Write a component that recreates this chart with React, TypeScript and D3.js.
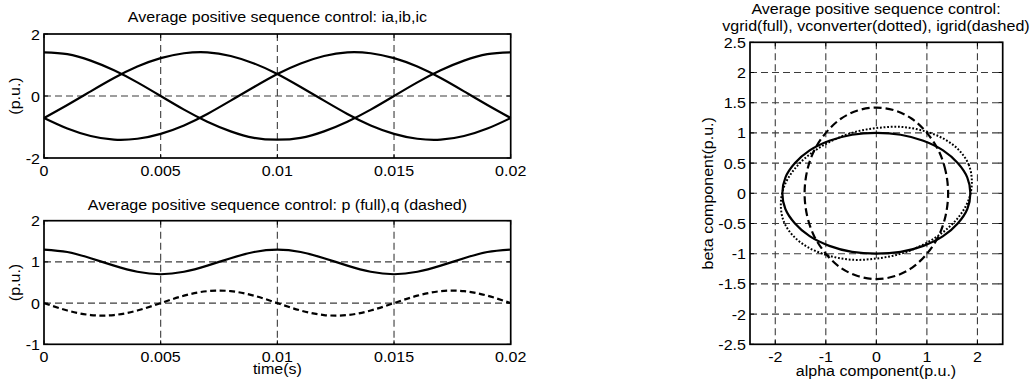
import React from "react";
import * as d3 from "d3";

// ---- data -------------------------------------------------------------
const time = [
  0, 0.001, 0.002, 0.003, 0.004, 0.005, 0.006, 0.007, 0.008, 0.009, 0.01,
  0.011, 0.012, 0.013, 0.014, 0.015, 0.016, 0.017, 0.018, 0.019, 0.02,
];
const ia = [1.41, 1.35, 1.14, 0.83, 0.44, 0, -0.44, -0.83, -1.14, -1.35, -1.41, -1.35, -1.14, -0.83, -0.44, 0, 0.44, 0.83, 1.14, 1.35, 1.41];
const ib = [-0.71, -0.29, 0.15, 0.58, 0.95, 1.22, 1.38, 1.41, 1.29, 1.05, 0.71, 0.29, -0.15, -0.58, -0.95, -1.22, -1.38, -1.41, -1.29, -1.05, -0.71];
const ic = [-0.71, -1.05, -1.29, -1.41, -1.38, -1.22, -0.95, -0.58, -0.15, 0.29, 0.71, 1.05, 1.29, 1.41, 1.38, 1.22, 0.95, 0.58, 0.15, -0.29, -0.71];

const pActive = [1.3, 1.24, 1.09, 0.91, 0.76, 0.7, 0.76, 0.91, 1.09, 1.24, 1.3, 1.24, 1.09, 0.91, 0.76, 0.7, 0.76, 0.91, 1.09, 1.24, 1.3];
const qReactive = [0, -0.18, -0.29, -0.29, -0.18, 0, 0.18, 0.29, 0.29, 0.18, 0, -0.18, -0.29, -0.29, -0.18, 0, 0.18, 0.29, 0.29, 0.18, 0];

// alpha/beta trajectories over one cycle (closed curves)
const vgridAlpha = [1.86, 1.8, 1.61, 1.32, 0.93, 0.48, 0, -0.48, -0.93, -1.32, -1.61, -1.8, -1.86, -1.8, -1.61, -1.32, -0.93, -0.48, 0, 0.48, 0.93, 1.32, 1.61, 1.8];
const vgridBeta = [0, 0.26, 0.5, 0.71, 0.87, 0.97, 1, 0.97, 0.87, 0.71, 0.5, 0.26, 0, -0.26, -0.5, -0.71, -0.87, -0.97, -1, -0.97, -0.87, -0.71, -0.5, -0.26];

const vconvAlpha = [1.89, 1.83, 1.64, 1.34, 0.95, 0.49, 0, -0.49, -0.95, -1.34, -1.64, -1.83, -1.89, -1.83, -1.64, -1.34, -0.95, -0.49, 0, 0.49, 0.95, 1.34, 1.64, 1.83];
const vconvBeta = [0.19, 0.47, 0.71, 0.9, 1.03, 1.1, 1.08, 1.0, 0.84, 0.63, 0.38, 0.1, -0.19, -0.47, -0.71, -0.9, -1.03, -1.1, -1.08, -1.0, -0.84, -0.63, -0.38, -0.1];

const igridAlpha = [1.42, 1.37, 1.23, 1.0, 0.71, 0.37, 0, -0.37, -0.71, -1.0, -1.23, -1.37, -1.42, -1.37, -1.23, -1.0, -0.71, -0.37, 0, 0.37, 0.71, 1.0, 1.23, 1.37];
const igridBeta = [0, 0.37, 0.71, 1.0, 1.23, 1.37, 1.42, 1.37, 1.23, 1.0, 0.71, 0.37, 0, -0.37, -0.71, -1.0, -1.23, -1.37, -1.42, -1.37, -1.23, -1.0, -0.71, -0.37];

// ---- ticks ------------------------------------------------------------
const timeTicks = [0, 0.005, 0.01, 0.015, 0.02];
const currentTicks = [-2, 0, 2];
const powerTicks = [-1, 0, 1, 2];
const alphaTicks = [-2, -1, 0, 1, 2];
const betaTicks = [-2.5, -2, -1.5, -1, -0.5, 0, 0.5, 1, 1.5, 2, 2.5];

const FONT = "'Liberation Sans', Arial, Helvetica, sans-serif";
const FS = 15;
const SX = 1.07;
const GRID = "#3c3c3c";
const GRID_DASH = "7 4";

type TxtProps = {
  x: number;
  y: number;
  anchor?: "start" | "middle" | "end";
  rotate?: number;
  children: React.ReactNode;
};

function Txt({ x, y, anchor = "middle", rotate = 0, children }: TxtProps) {
  return (
    <text
      transform={`translate(${x},${y}) rotate(${rotate}) scale(${SX},1)`}
      textAnchor={anchor}
      fontFamily={FONT}
      fontSize={FS}
      fill="#000"
    >
      {children}
    </text>
  );
}

type AxesProps = {
  x: d3.ScaleLinear<number, number>;
  y: d3.ScaleLinear<number, number>;
  xTicks: number[];
  yTicks: number[];
};

// box axes with inward ticks and a dashed grid
function Axes({ x, y, xTicks, yTicks }: AxesProps) {
  const [x0, x1] = x.range();
  const [y0, y1] = y.range(); // y0 bottom, y1 top
  const tl = 4;
  return (
    <g>
      {xTicks
        .filter((t) => Math.abs(x(t) - x0) > 1 && Math.abs(x(t) - x1) > 1)
        .map((t) => (
          <line key={"gx" + t} x1={x(t)} x2={x(t)} y1={y1} y2={y0} stroke={GRID} strokeWidth={1.1} strokeDasharray={GRID_DASH} />
        ))}
      {yTicks
        .filter((t) => Math.abs(y(t) - y0) > 1 && Math.abs(y(t) - y1) > 1)
        .map((t) => (
          <line key={"gy" + t} x1={x0} x2={x1} y1={y(t)} y2={y(t)} stroke={GRID} strokeWidth={1.1} strokeDasharray={GRID_DASH} />
        ))}
      {xTicks.map((t) => (
        <g key={"tx" + t}>
          <line x1={x(t)} x2={x(t)} y1={y0} y2={y0 - tl} stroke="#000" strokeWidth={1} />
          <line x1={x(t)} x2={x(t)} y1={y1} y2={y1 + tl} stroke="#000" strokeWidth={1} />
          <Txt x={x(t)} y={y0 + 18}>{String(t)}</Txt>
        </g>
      ))}
      {yTicks.map((t) => (
        <g key={"ty" + t}>
          <line x1={x0} x2={x0 + tl} y1={y(t)} y2={y(t)} stroke="#000" strokeWidth={1} />
          <line x1={x1} x2={x1 - tl} y1={y(t)} y2={y(t)} stroke="#000" strokeWidth={1} />
          <Txt x={x0 - 4} y={y(t) + 5.5} anchor="end">{String(t)}</Txt>
        </g>
      ))}
      <rect x={x0} y={y1} width={x1 - x0} height={y0 - y1} fill="none" stroke="#000" strokeWidth={1.7} />
    </g>
  );
}

export default function App() {
  // top-left: phase currents
  const xTop = d3.scaleLinear().domain([0, 0.02]).range([44, 510.7]);
  const yTop = d3.scaleLinear().domain([-2, 2]).range([158, 34]);
  // bottom-left: active / reactive power
  const xBot = d3.scaleLinear().domain([0, 0.02]).range([44, 510.7]);
  const yBot = d3.scaleLinear().domain([-1, 2]).range([344.3, 220.7]);
  // right: alpha-beta plane
  const xAB = d3.scaleLinear().domain([-2.5, 2.5]).range([750, 1002.7]);
  const yAB = d3.scaleLinear().domain([-2.5, 2.5]).range([344.3, 42.3]);

  const lineTop = (vals: number[]) =>
    d3
      .line<number>()
      .x((_, i) => xTop(time[i]))
      .y((v) => yTop(v))
      .curve(d3.curveNatural)(vals) as string;
  const lineBot = (vals: number[]) =>
    d3
      .line<number>()
      .x((_, i) => xBot(time[i]))
      .y((v) => yBot(v))
      .curve(d3.curveNatural)(vals) as string;
  const loop = (a: number[], b: number[]) =>
    d3
      .line<number>()
      .x((v) => xAB(v))
      .y((_, i) => yAB(b[i]))
      .curve(d3.curveCatmullRomClosed.alpha(0.5))(a) as string;

  return (
    <svg width={1030} height={385} style={{ position: "absolute", left: 0, top: 0, background: "#fff" }}>
      <rect width={1030} height={385} fill="#fff" />

      {/* currents */}
      <Txt x={277.4} y={22}>Average positive sequence control: ia,ib,ic</Txt>
      <Axes x={xTop} y={yTop} xTicks={timeTicks} yTicks={currentTicks} />
      {[ia, ib, ic].map((s, k) => (
        <path key={k} d={lineTop(s)} fill="none" stroke="#000" strokeWidth={2.2} />
      ))}
      <Txt x={20} y={96} rotate={-90}>(p.u.)</Txt>

      {/* powers */}
      <Txt x={277.4} y={210}>Average positive sequence control: p (full),q (dashed)</Txt>
      <Axes x={xBot} y={yBot} xTicks={timeTicks} yTicks={powerTicks} />
      <path d={lineBot(pActive)} fill="none" stroke="#000" strokeWidth={2.2} />
      <path d={lineBot(qReactive)} fill="none" stroke="#000" strokeWidth={2.2} strokeDasharray="6 3.5" />
      <Txt x={20} y={282.5} rotate={-90}>(p.u.)</Txt>
      <Txt x={277.4} y={374}>time(s)</Txt>

      {/* alpha-beta plane */}
      <Txt x={876} y={13.5}>Average positive sequence control:</Txt>
      <Txt x={876} y={31}>vgrid(full), vconverter(dotted), igrid(dashed)</Txt>
      <Axes x={xAB} y={yAB} xTicks={alphaTicks} yTicks={betaTicks} />
      <path d={loop(vgridAlpha, vgridBeta)} fill="none" stroke="#000" strokeWidth={2.2} />
      <path d={loop(vconvAlpha, vconvBeta)} fill="none" stroke="#000" strokeWidth={2} strokeDasharray="1.8 1.8" />
      <path d={loop(igridAlpha, igridBeta)} fill="none" stroke="#000" strokeWidth={2.2} strokeDasharray="8 4" />
      <Txt x={713} y={193.3} rotate={-90}>beta component(p.u.)</Txt>
      <Txt x={876} y={376}>alpha component(p.u.)</Txt>
    </svg>
  );
}
